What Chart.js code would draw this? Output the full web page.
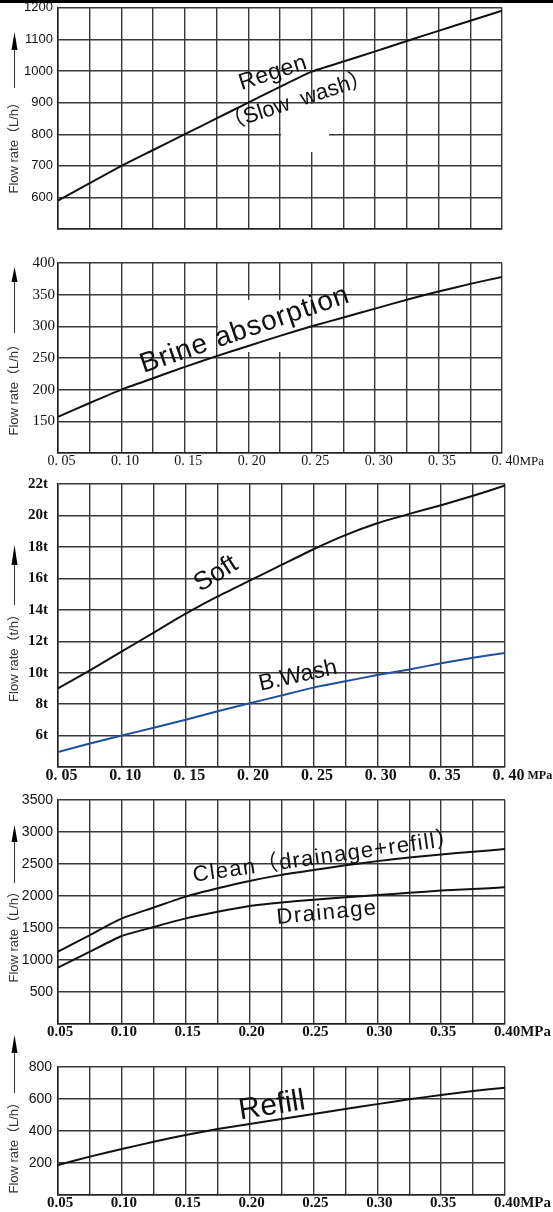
<!DOCTYPE html>
<html>
<head>
<meta charset="utf-8">
<script src="https://cdn.jsdelivr.net/npm/chart.js@4.4.1/dist/chart.umd.min.js"></script>
<style>
  html, body { margin: 0; padding: 0; background: #fff; }
  body { position: relative; width: 553px; height: 1212px; overflow: hidden; }
  canvas { position: absolute; left: 0; }
  #bar { position: absolute; left: 0; top: 0; width: 553px; height: 3px; background: #000; z-index: 5; }
</style>
</head>
<body>
<canvas id="regen"></canvas>
<canvas id="brine"></canvas>
<canvas id="soft"></canvas>
<canvas id="clean"></canvas>
<canvas id="refill"></canvas>
<div id="bar"></div>
<script>
// pressure (MPa), one point per grid column
const pressure = [0.05, 0.075, 0.10, 0.125, 0.15, 0.175, 0.20, 0.225, 0.25, 0.275, 0.30, 0.325, 0.35, 0.375, 0.40];
const spacedLabels = ['0. 05', '0. 10', '0. 15', '0. 20', '0. 25', '0. 30', '0. 35', '0. 40'];
const plainLabels = ['0.05', '0.10', '0.15', '0.20', '0.25', '0.30', '0.35', '0.40'];

// flow rates
const regenFlow = [590, 645, 700, 750, 800, 850, 900, 950, 998, 1030, 1062, 1095, 1127, 1159, 1191];
const brineFlow = [157, 179, 200, 218, 236, 253, 269, 285, 300, 314, 328, 342, 355, 367, 378];
const softFlow = [9.0, 10.15, 11.35, 12.55, 13.75, 14.85, 15.85, 16.85, 17.85, 18.75, 19.5, 20.1, 20.65, 21.25, 21.9];
const backwashFlow = [4.95, 5.5, 6.0, 6.5, 7.0, 7.55, 8.05, 8.55, 9.05, 9.45, 9.85, 10.2, 10.6, 10.95, 11.25];
const cleanFlow = [1130, 1390, 1650, 1820, 1990, 2120, 2235, 2330, 2405, 2480, 2545, 2600, 2650, 2690, 2735];
const drainFlow = [880, 1130, 1375, 1515, 1650, 1755, 1845, 1900, 1940, 1980, 2015, 2050, 2085, 2110, 2135];
const refillFlow = [187, 240, 287, 333, 375, 412, 444, 475, 506, 537, 568, 598, 625, 650, 671];

// y tick values
const regenTicks = [500, 600, 700, 800, 900, 1000, 1100, 1200];
const brineTicks = [100, 150, 200, 250, 300, 350, 400];
const softTicks = [4, 6, 8, 10, 12, 14, 16, 18, 20, 22];
const cleanTicks = [0, 500, 1000, 1500, 2000, 2500, 3000, 3500];
const refillTicks = [0, 200, 400, 600, 800];

const SANS = '"Liberation Sans", "Noto Sans CJK SC", Arial, sans-serif';
const SERIF = '"Liberation Serif", "Times New Roman", serif';
const GRID = '#383838';
const INK = '#111';
const BLUE = '#1f4f9f';

const panels = [
  {
    id: 'regen', top: -5, height: 250, plotTop: 7, plotBottom: 229, right: 502,
    series: [{ values: regenFlow, color: INK }],
    yTicks: regenTicks, yFont: { family: SANS, size: 13 }, yPad: 5, ySuffix: '',
    xLabels: null,
    title: { text: 'Flow rate（L/h）', arrowTop: 32, headBottom: 50, lineBottom: 88, textTop: 96 },
    blank: [281, 104, 48, 48],
    labels: [
      { text: 'Regen', x: 273, y: 73, angle: 18, size: 23, spacing: 0.5 },
      { text: '（Slow  wash）', x: 297, y: 101, angle: 18, size: 22 }
    ]
  },
  {
    id: 'brine', top: 245, height: 230, plotTop: 263, plotBottom: 453, right: 502,
    series: [{ values: brineFlow, color: INK }],
    yTicks: brineTicks, yFont: { family: SERIF, size: 15 }, yPad: 3, ySuffix: '',
    xLabels: spacedLabels, xFont: { family: SERIF, size: 14 }, xPad: 0, xOffset: 3.5,
    unit: 'MPa', unitFont: { family: SERIF, size: 13 }, unitGap: 0,
    title: { text: 'Flow rate（L/h）', arrowTop: 267, headBottom: 282, lineBottom: 333, textTop: 338 },
    blank: [218, 300, 91, 52],
    labels: [
      { text: 'Brine absorption', x: 245, y: 330, angle: 19, size: 28, spacing: 1 }
    ]
  },
  {
    id: 'soft', top: 465, height: 325, plotTop: 479, plotBottom: 767, right: 505,
    series: [{ values: softFlow, color: INK }, { values: backwashFlow, color: BLUE }],
    yTicks: softTicks, yFont: { family: SERIF, size: 15, weight: 'bold' }, yPad: 10, ySuffix: 't',
    xLabels: spacedLabels, xFont: { family: SERIF, size: 16, weight: 'bold' }, xPad: -1, xOffset: 3.5,
    unit: 'MPa', unitFont: { family: SERIF, size: 12, weight: 'bold' }, unitGap: 3,
    title: { text: 'Flow rate（t/h）', arrowTop: 545, headBottom: 565, lineBottom: 605, textTop: 608 },
    labels: [
      { text: 'Soft', x: 216, y: 574, angle: 32, size: 26 },
      { text: 'B.Wash', x: 298, y: 676, angle: 12.5, size: 23 }
    ]
  },
  {
    id: 'clean', top: 785, height: 255, plotTop: 800, plotBottom: 1024, right: 505,
    series: [{ values: cleanFlow, color: INK }, { values: drainFlow, color: INK }],
    yTicks: cleanTicks, yFont: { family: SANS, size: 14 }, yPad: 5, ySuffix: '',
    xLabels: plainLabels, xFont: { family: SERIF, size: 15, weight: 'bold' }, xPad: -1, xOffset: 2,
    unit: 'MPa', unitFont: { family: SERIF, size: 15, weight: 'bold' }, unitGap: 0,
    title: { text: 'Flow rate（L/h）', arrowTop: 825, headBottom: 842, lineBottom: 883, textTop: 885 },
    labels: [
      { text: 'Clean（drainage+refill）', x: 326, y: 857, angle: 8, size: 22, spacing: 1.3 },
      { text: 'Drainage', x: 327, y: 913, angle: 5.5, size: 22, spacing: 1.5 }
    ]
  },
  {
    id: 'refill', top: 1025, height: 187, plotTop: 1067, plotBottom: 1195, right: 505,
    series: [{ values: refillFlow, color: INK }],
    yTicks: refillTicks, yFont: { family: SANS, size: 14 }, yPad: 6, ySuffix: '',
    xLabels: plainLabels, xFont: { family: SERIF, size: 15, weight: 'bold' }, xPad: -1, xOffset: 2,
    unit: 'MPa', unitFont: { family: SERIF, size: 15, weight: 'bold' }, unitGap: 0,
    title: { text: 'Flow rate（L/h）', arrowTop: 1035, headBottom: 1053, lineBottom: 1093, textTop: 1096 },
    labels: [
      { text: 'Refill', x: 272, y: 1106, angle: 9, size: 30 }
    ]
  }
];

function fontString(f) {
  return (f.weight || 'normal') + ' ' + f.size + 'px ' + f.family;
}

function makePanel(p) {
  const cv = document.getElementById(p.id);
  cv.width = 553;
  cv.height = p.height;
  cv.style.top = p.top + 'px';
  const off = p.top;

  const decorations = {
    id: 'decor_' + p.id,
    beforeDatasetsDraw(chart) {
      if (!p.blank) return;
      const ctx = chart.ctx;
      ctx.save();
      ctx.fillStyle = '#fff';
      ctx.fillRect(p.blank[0], p.blank[1] - off, p.blank[2], p.blank[3]);
      ctx.restore();
    },
    afterDraw(chart) {
      const ctx = chart.ctx;
      const t = p.title;
      ctx.save();
      // axis title arrow
      ctx.strokeStyle = '#333';
      ctx.lineWidth = 1;
      ctx.beginPath();
      ctx.moveTo(14.5, t.headBottom - off);
      ctx.lineTo(14.5, t.lineBottom - off);
      ctx.stroke();
      ctx.fillStyle = '#000';
      ctx.beginPath();
      ctx.moveTo(14.5, t.arrowTop - off);
      ctx.lineTo(17.5, t.headBottom - off);
      ctx.lineTo(11.5, t.headBottom - off);
      ctx.closePath();
      ctx.fill();
      // axis title text
      ctx.translate(14, t.textTop - off);
      ctx.rotate(-Math.PI / 2);
      ctx.font = '13px ' + SANS;
      ctx.fillStyle = '#333';
      ctx.textAlign = 'right';
      ctx.textBaseline = 'middle';
      ctx.fillText(t.text, 0, 0);
      ctx.restore();

      // curve labels
      p.labels.forEach(l => {
        ctx.save();
        ctx.translate(l.x, l.y - off);
        ctx.rotate(-l.angle * Math.PI / 180);
        ctx.font = l.size + 'px ' + SANS;
        ctx.letterSpacing = (l.spacing || 0) + 'px';
        ctx.fillStyle = INK;
        ctx.textAlign = 'center';
        ctx.textBaseline = 'middle';
        ctx.fillText(l.text, 0, 0);
        ctx.restore();
      });

      // unit after the last x label
      if (p.xLabels) {
        const xs = chart.scales.x;
        const items = xs.getLabelItems ? xs.getLabelItems() : [];
        const last = items[items.length - 1];
        if (last) {
          const [tx, ty] = last.options.translation;
          ctx.save();
          ctx.font = fontString(p.xFont);
          const w = ctx.measureText(String(last.label)).width;
          ctx.font = fontString(p.unitFont);
          ctx.fillStyle = INK;
          ctx.textAlign = 'left';
          ctx.textBaseline = last.options.textBaseline;
          ctx.fillText(p.unit, tx + w / 2 + p.unitGap, ty + last.textOffset);
          ctx.restore();
        }
      }
    }
  };

  return new Chart(cv, {
    type: 'line',
    data: {
      datasets: p.series.map(s => ({
        data: pressure.map((x, i) => ({ x: x, y: s.values[i] })),
        borderColor: s.color,
        borderWidth: 2,
        pointRadius: 0,
        fill: false,
        tension: 0.2
      }))
    },
    options: {
      responsive: false,
      animation: false,
      devicePixelRatio: 1,
      layout: { padding: { top: p.plotTop - off, right: 553 - p.right, left: 0, bottom: 0 } },
      plugins: { legend: { display: false }, tooltip: { enabled: false } },
      scales: {
        x: {
          type: 'linear',
          min: pressure[0],
          max: pressure[pressure.length - 1],
          afterBuildTicks: s => { s.ticks = pressure.map(v => ({ value: v })); },
          afterFit: s => { s.height = p.height - (p.plotBottom - off); },
          grid: { color: GRID, lineWidth: 1.4, drawTicks: false },
          border: { color: '#222', width: 1.5 },
          ticks: {
            display: !!p.xLabels,
            autoSkip: false,
            maxRotation: 0,
            padding: p.xPad || 0,
            labelOffset: p.xOffset || 0,
            color: INK,
            font: p.xFont,
            callback: (v, i) => (p.xLabels && i % 2 === 0 ? p.xLabels[i / 2] : '')
          }
        },
        y: {
          min: p.yTicks[0],
          max: p.yTicks[p.yTicks.length - 1],
          afterBuildTicks: s => { s.ticks = p.yTicks.map(v => ({ value: v })); },
          afterFit: s => { s.width = 58; },
          grid: { color: GRID, lineWidth: 1.4, drawTicks: false },
          border: { color: '#222', width: 1.5 },
          ticks: {
            autoSkip: false,
            padding: p.yPad,
            color: INK,
            font: p.yFont,
            callback: (v, i) => (i === 0 ? '' : v + p.ySuffix)
          }
        }
      }
    },
    plugins: [decorations]
  });
}

panels.forEach(makePanel);
</script>
</body>
</html>
